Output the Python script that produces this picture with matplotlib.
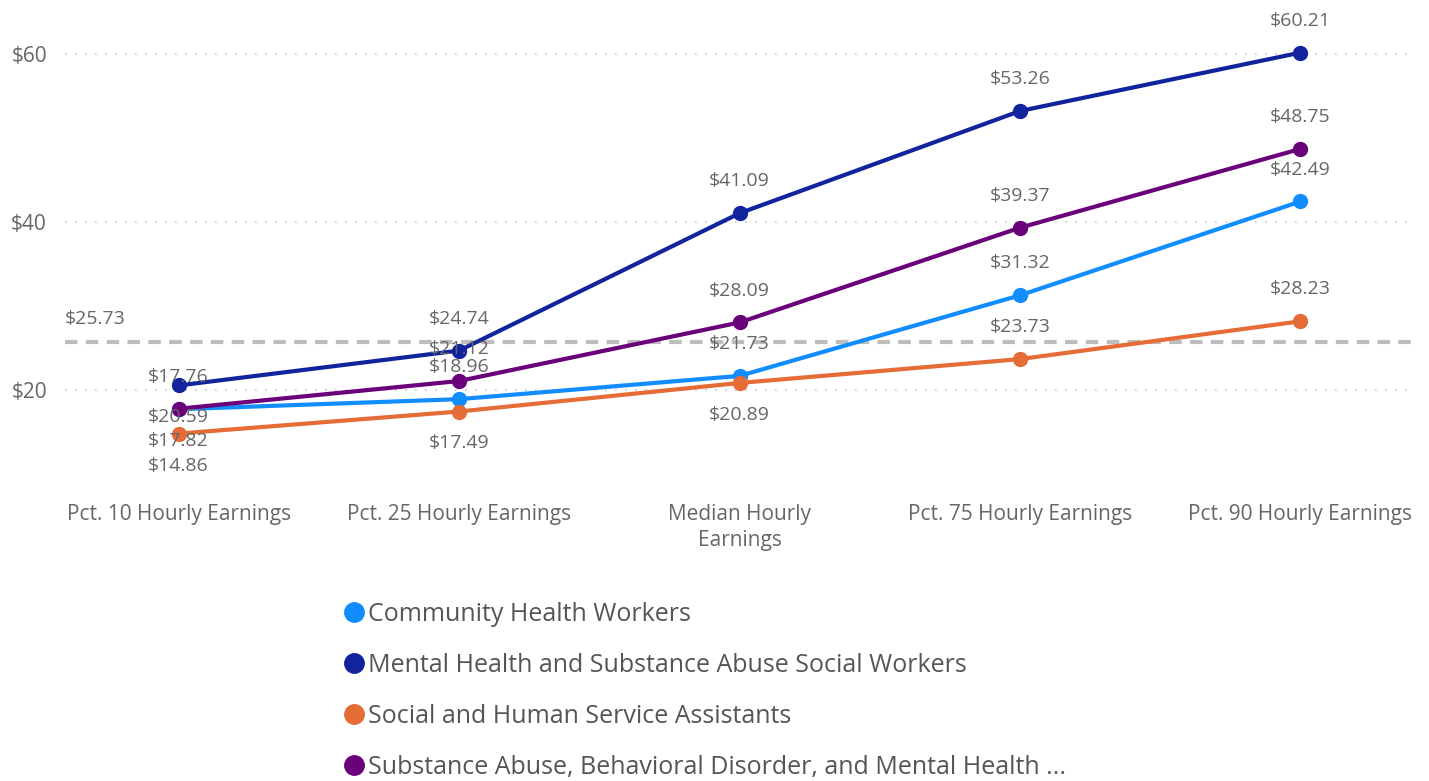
"""
Hourly earnings percentiles for behavioral health occupations.
Power BI style line chart with data labels and an average reference line.
"""

import matplotlib
matplotlib.use("Agg")
import matplotlib.pyplot as plt
from matplotlib.lines import Line2D

# ─── Data ──────────────────────────────────────────────────────────────────────

categories = [
    "Pct. 10 Hourly Earnings",
    "Pct. 25 Hourly Earnings",
    "Median Hourly\nEarnings",
    "Pct. 75 Hourly Earnings",
    "Pct. 90 Hourly Earnings",
]

series_names = [
    "Community Health Workers",
    "Mental Health and Substance Abuse Social Workers",
    "Social and Human Service Assistants",
    "Substance Abuse, Behavioral Disorder, and Mental Health ...",
]

community = [17.76, 18.96, 21.73, 31.32, 42.49]
mental_health = [20.59, 24.74, 41.09, 53.26, 60.21]
social_assist = [14.86, 17.49, 20.89, 23.73, 28.23]
substance = [17.82, 21.12, 28.09, 39.37, 48.75]

reference_value = 25.73
y_ticks = [20, 40, 60]

# ─── Style ─────────────────────────────────────────────────────────────────────

COLORS = ["#118DFF", "#12239E", "#E66C37", "#6B007B"]
TEXT = "#666666"
FONT = "Open Sans"

# label below the point (True) or above it (False), per series per category
LABEL_BELOW = [
    [False, False, False, False, False],
    [True, False, False, False, False],
    [True, True, True, False, False],
    [True, False, False, False, False],
]

plt.rcParams["font.family"] = [FONT, "DejaVu Sans"]

fig = plt.figure(figsize=(14.29, 7.81), dpi=100)
ax = fig.add_axes([0.0455, 0.385, 0.945, 0.583])

x = range(len(categories))
all_series = [community, mental_health, social_assist, substance]

# reference line (average)
ax.axhline(reference_value, color="#BDBDBD", lw=3, ls=(0, (3, 2)), zorder=1)
ax.annotate(f"${reference_value:.2f}", xy=(0, reference_value),
            xycoords=("axes fraction", "data"), xytext=(0, 10),
            textcoords="offset points", ha="left", va="bottom",
            fontsize=14, color=TEXT)

for vals, color, below in zip(all_series, COLORS, LABEL_BELOW):
    ax.plot(x, vals, color=color, lw=3, marker="o", markersize=10, zorder=3,
            solid_capstyle="round")
    for xi, v, b in zip(x, vals, below):
        dy = -23 if b else 23
        ax.annotate(f"${v:.2f}", xy=(xi, v), xytext=(0, dy),
                    textcoords="offset points", ha="center", va="center",
                    fontsize=14, color=TEXT, zorder=4)

ax.set_xlim(-0.405, 4.41)
ax.set_ylim(9.3, 63.5)
ax.set_xticks(list(x))
ax.set_xticklabels(categories, fontsize=15, color=TEXT, linespacing=1.3)
ax.set_yticks(y_ticks)
ax.set_yticklabels([f"${t}" for t in y_ticks], fontsize=15, color=TEXT)
ax.tick_params(length=0)
ax.tick_params(axis="y", pad=13)
ax.tick_params(axis="x", pad=17)
ax.yaxis.grid(True, color="#C8C8C8", ls=(0, (1, 5)), lw=1.2)
for s in ax.spines.values():
    s.set_visible(False)

handles = [Line2D([], [], ls="none", marker="o", markersize=14, color=c)
           for c in COLORS]
fig.legend(handles, series_names, loc="upper left",
           bbox_to_anchor=(0.234, 0.242), frameon=False, fontsize=18,
           labelcolor="#555555", handletextpad=0.15, handlelength=0.8,
           labelspacing=1.04, borderaxespad=0)

fig.savefig("out.png", dpi=100)
